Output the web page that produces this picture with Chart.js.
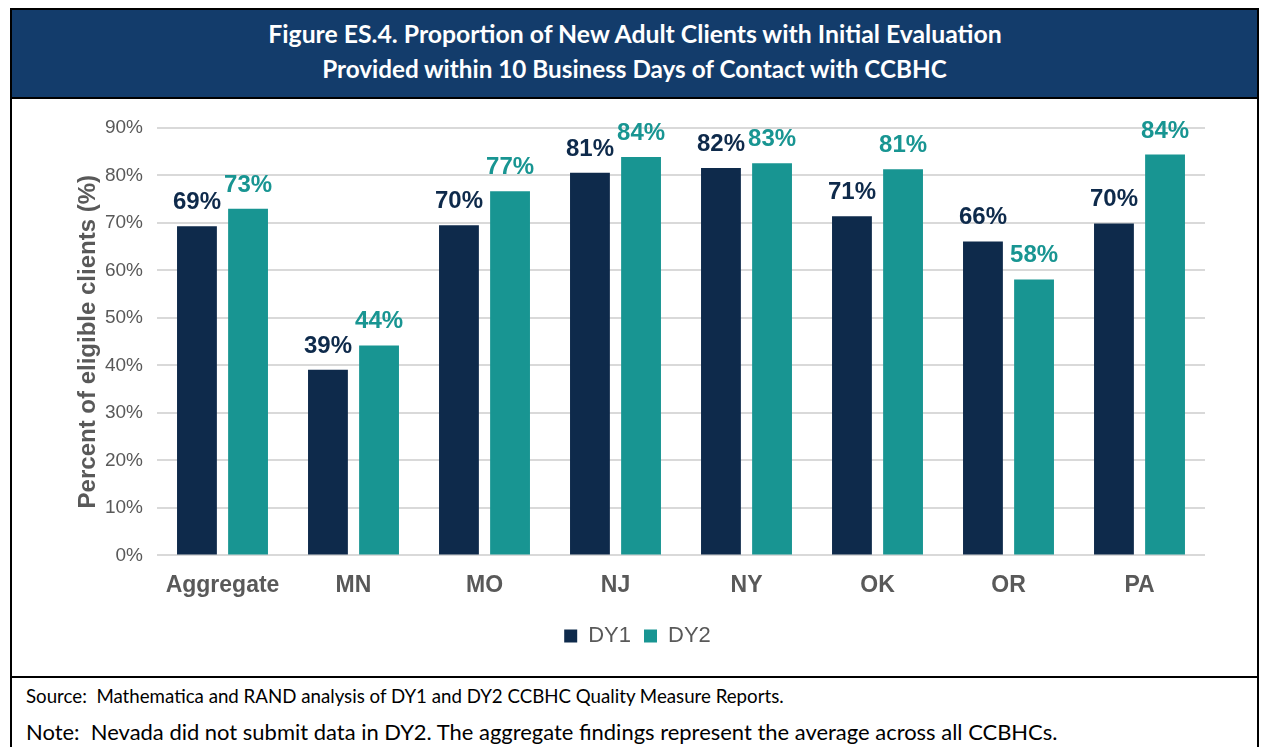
<!DOCTYPE html>
<html><head><meta charset="utf-8">
<script src="https://cdn.jsdelivr.net/npm/chart.js@4.4.0/dist/chart.umd.min.js"></script>
<style>
html,body{margin:0;padding:0;background:#fff;width:1262px;height:747px;overflow:hidden;}
#frame{position:absolute;left:10px;top:8px;width:1245px;height:760px;border:2px solid #000;border-bottom:none;}
#banner{position:absolute;left:12px;top:10px;width:1245px;height:87px;background:#133c6b;}
#bannerLine{position:absolute;left:12px;top:97px;width:1245px;height:2px;background:#000;}
#footLine{position:absolute;left:12px;top:676px;width:1245px;height:2px;background:#000;}
.txt{position:absolute;white-space:nowrap;line-height:1;font-family:Lato,"Open Sans",sans-serif;}
.bl{display:inline-block;width:0;height:0;vertical-align:baseline;}
#chartBox{position:absolute;left:12px;top:99px;width:1245px;height:577px;}
</style></head>
<body>
<div id="frame"></div>
<div id="banner"></div>
<div id="bannerLine"></div>
<div id="footLine"></div>
<div class="txt" id="t1" style="color:#fff;font-weight:bold;">Figure ES.4. Proportion of New Adult Clients with Initial Evaluation<span class="bl"></span></div>
<div class="txt" id="t2" style="color:#fff;font-weight:bold;">Provided within 10 Business Days of Contact with CCBHC<span class="bl"></span></div>
<div class="txt" id="src" style="color:#000;">Source:&nbsp; Mathematica and RAND analysis of DY1 and DY2 CCBHC Quality Measure Reports.<span class="bl"></span></div>
<div class="txt" id="note" style="color:#000;">Note:&nbsp; Nevada did not submit data in DY2. The aggregate findings represent the average across all CCBHCs.<span class="bl"></span></div>
<div id="chartBox"><canvas id="c" width="1245" height="577"></canvas></div>
<script>
const categories = ['Aggregate', 'MN', 'MO', 'NJ', 'NY', 'OK', 'OR', 'PA'];
const dy1Values = [69.3, 39.1, 69.5, 80.6, 81.6, 71.4, 66.1, 69.9];
const dy2Values = [73.0, 44.2, 76.7, 83.9, 82.6, 81.3, 58.1, 84.4];
const seriesNames = ['DY1', 'DY2'];
const yAxisMin = 0, yAxisMax = 90, yAxisStep = 10;
const yAxisTitle = 'Percent of eligible clients (%)';

const FAM = '"Liberation Sans", Arial, Helvetica, sans-serif';
const GREY = '#595959';
const C1 = '#0e2a4b', C2 = '#189592';

const valueLabels = {
  id: 'valueLabels',
  afterDatasetsDraw(chart) {
    const ctx = chart.ctx;
    ctx.save();
    ctx.font = 'bold 24px ' + FAM;
    ctx.textAlign = 'center';
    ctx.textBaseline = 'alphabetic';
    chart.data.datasets.forEach((ds, i) => {
      const meta = chart.getDatasetMeta(i);
      ctx.fillStyle = ds.backgroundColor;
      meta.data.forEach((bar, j) => {
        ctx.fillText(Math.round(ds.data[j]) + '%', bar.x, bar.y - 17);
      });
    });
    ctx.restore();
  }
};

new Chart(document.getElementById('c'), {
  type: 'bar',
  data: {
    labels: categories,
    datasets: [
      { label: seriesNames[0], data: dy1Values, backgroundColor: C1, categoryPercentage: 0.78, barPercentage: 0.78 },
      { label: seriesNames[1], data: dy2Values, backgroundColor: C2, categoryPercentage: 0.78, barPercentage: 0.78 }
    ]
  },
  options: {
    responsive: false,
    animation: false,
    devicePixelRatio: 1,
    layout: { padding: { left: 58, right: 52, top: 29, bottom: 19 } },
    plugins: {
      legend: {
        position: 'bottom',
        labels: { boxWidth: 13, boxHeight: 13, padding: 13, color: GREY, font: { size: 22, family: FAM } }
      },
      tooltip: { enabled: false },
      title: { display: false }
    },
    scales: {
      x: {
        grid: { display: false, drawTicks: false },
        border: { display: false },
        ticks: { color: GREY, padding: 16, font: { size: 23, weight: 'bold', family: FAM } },
        afterFit(s) { s.height -= 3; }
      },
      y: {
        min: yAxisMin, max: yAxisMax,
        ticks: { stepSize: yAxisStep, callback: v => v + '%', color: GREY, padding: 14, font: { size: 19, family: FAM } },
        grid: { color: '#d9d9d9', lineWidth: 2, drawTicks: false },
        border: { display: false },
        title: { display: true, text: yAxisTitle, color: GREY, padding: { top: 4, bottom: 0 }, font: { size: 24, weight: 'bold', family: FAM } },
        afterFit(s) { s.width = 87; }
      }
    }
  },
  plugins: [valueLabels]
});

function place(id, width, baseline, opts) {
  const el = document.getElementById(id);
  el.style.fontSize = '100px';
  el.style.left = '0px'; el.style.top = '0px';
  const w = el.getBoundingClientRect().width;
  const fs = 100 * width / w;
  el.style.fontSize = fs + 'px';
  const r = el.getBoundingClientRect();
  const b = el.querySelector('.bl').getBoundingClientRect();
  const off = b.bottom - r.top;
  el.style.top = (baseline - off) + 'px';
  if (opts.center !== undefined) el.style.left = (opts.center - r.width / 2) + 'px';
  else el.style.left = opts.left + 'px';
}
function layoutText() {
  place('t1', 734, 43, { center: 635 });
  place('t2', 625, 78, { center: 634.5 });
  place('src', 758, 703, { left: 26 });
  place('note', 1032, 740, { left: 26 });
}
layoutText();
if (document.fonts && document.fonts.ready) document.fonts.ready.then(layoutText);
</script>
</body></html>
